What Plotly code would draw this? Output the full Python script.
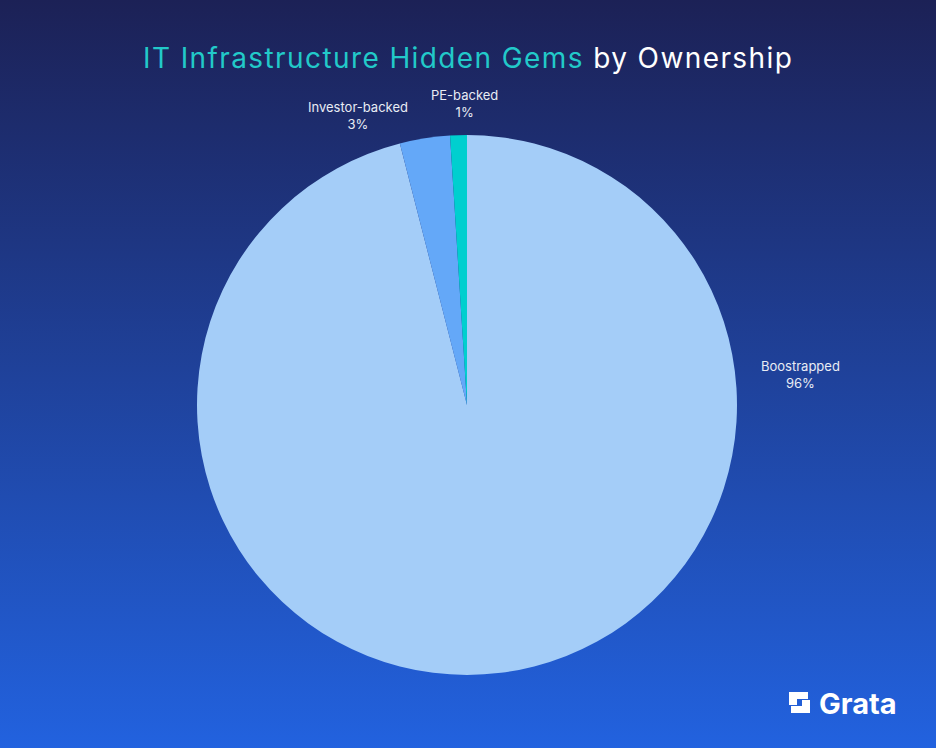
import plotly.graph_objects as go

# data
labels = ["Boostrapped", "Investor-backed", "PE-backed"]
values = [96, 3, 1]
slice_colors = ["#a4cdf8", "#64a8f8", "#00cfcf"]

W, H = 936, 748

# gradient background as an svg image
bg_svg = (
    "data:image/svg+xml;utf8,"
    "<svg xmlns='http://www.w3.org/2000/svg' width='936' height='748'>"
    "<defs><linearGradient id='g' x1='0' y1='0' x2='0' y2='1'>"
    "<stop offset='0' stop-color='%231c2156'/>"
    "<stop offset='1' stop-color='%232262df'/>"
    "</linearGradient></defs>"
    "<rect width='936' height='748' fill='url(%23g)'/></svg>"
)


def px(x):
    return x / W


def py(y):
    return 1 - y / H


fig = go.Figure()
fig.add_trace(go.Pie(
    labels=labels,
    values=values,
    marker=dict(colors=slice_colors, line=dict(width=0)),
    sort=False,
    direction="clockwise",
    rotation=0,
    textinfo="none",
    hoverinfo="label+percent",
    showlegend=False,
    domain=dict(x=[px(197), px(737)], y=[py(675), py(135)]),
))

# label positions (pixel centres from top-left)
label_pos = {"PE-backed": (464, 103), "Investor-backed": (358, 116), "Boostrapped": (800, 374)}
total = sum(values)
annotations = []
for lab, val in zip(labels, values):
    x, y = label_pos[lab]
    annotations.append(dict(
        x=px(x), y=py(y), xref="paper", yref="paper",
        xanchor="center", yanchor="middle",
        text=f"{lab}<br>{round(val / total * 100)}%",
        showarrow=False, align="center",
        font=dict(family="Inter, Roboto, sans-serif", size=13, color="#e8ecf4"),
    ))

annotations.append(dict(
    x=0.5, y=py(58), xref="paper", yref="paper",
    xanchor="center", yanchor="middle",
    text="<span style='letter-spacing:1.4px'><span style='color:#22c9c9'>IT Infrastructure Hidden Gems</span> by Ownership</span>",
    showarrow=False,
    font=dict(family="Inter, Lato, sans-serif", size=28, color="#ffffff"),
))

# logo
annotations.append(dict(
    x=px(858), y=py(703), xref="paper", yref="paper",
    xanchor="center", yanchor="middle",
    text="<b>Grata</b>", showarrow=False,
    font=dict(family="Inter, sans-serif", size=29, color="#ffffff"),
))


def rect(x0, y0, x1, y1):
    return dict(type="rect", xref="paper", yref="paper",
                x0=px(x0), x1=px(x1), y0=py(y1), y1=py(y0),
                fillcolor="white", line_width=0)


shapes = [
    rect(789, 692, 808, 699),
    rect(789, 692, 797, 705),
    rect(791, 706, 810, 713),
    rect(802, 700, 810, 713),
]

fig.update_layout(
    width=W, height=H,
    margin=dict(l=0, r=0, t=0, b=0),
    paper_bgcolor="#1f3f9a",
    plot_bgcolor="rgba(0,0,0,0)",
    images=[dict(source=bg_svg, xref="paper", yref="paper", x=0, y=1,
                 sizex=1, sizey=1, sizing="stretch", layer="below",
                 xanchor="left", yanchor="top")],
    annotations=annotations,
    shapes=shapes,
)

fig.write_html("out.html", config={"displayModeBar": False},
               post_script="document.body.style.margin='0';")
